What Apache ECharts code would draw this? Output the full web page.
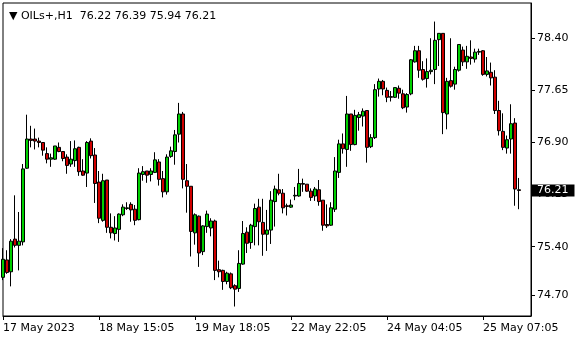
<!DOCTYPE html>
<html><head><meta charset="utf-8">
<script src="https://cdn.jsdelivr.net/npm/echarts@6/dist/echarts.min.js"></script>
<style>html,body{margin:0;padding:0;background:#fff}#c{width:580px;height:340px}</style>
</head><body><div id="c"></div>
<script>
const symbolName = 'OILs+';
const timeframe = 'H1';
const openPrices = [74.96,75.21,75.04,75.51,75.42,75.47,76.53,76.95,76.95,76.92,76.90,76.74,76.66,76.66,76.83,76.77,76.69,76.59,76.64,76.83,
76.49,76.46,76.92,76.72,76.33,75.78,76.36,75.68,75.59,75.65,75.86,75.95,76.01,75.94,75.79,76.44,76.49,76.44,76.47,76.62,
76.38,76.19,76.70,76.77,77.02,77.31,76.35,76.27,75.60,75.84,75.33,75.69,75.67,75.77,75.07,75.06,74.90,75.01,74.84,74.80,
75.15,75.61,75.46,75.69,75.97,75.75,75.58,75.64,76.05,76.22,76.17,75.99,75.97,76.13,76.13,76.31,76.30,76.20,76.13,76.22,
76.07,75.72,75.71,75.94,76.47,76.88,76.80,77.31,76.87,77.26,77.28,77.36,76.84,76.97,77.67,77.78,77.65,77.56,77.55,77.68,
77.60,77.41,77.60,78.06,78.22,77.95,77.82,77.92,77.95,78.38,78.47,77.31,77.79,77.74,77.94,78.23,78.06,78.13,78.10,78.20,
78.22,77.88,77.91,77.84,77.36,77.06,76.82,76.95,77.18,76.22];
const closePrices = [75.22,75.03,75.48,75.42,75.48,76.52,76.95,76.93,76.92,76.90,76.79,76.66,76.68,76.85,76.77,76.67,76.57,76.66,76.81,76.48,
76.43,76.90,76.71,76.31,75.81,76.35,75.68,75.60,75.67,75.87,75.97,75.96,75.93,75.78,76.46,76.48,76.43,76.49,76.65,76.37,
76.19,76.69,76.78,77.01,77.31,76.37,76.27,75.62,75.86,75.31,75.70,75.87,75.77,75.06,75.04,74.90,75.02,74.81,74.79,75.16,
75.59,75.45,75.71,75.95,75.76,75.58,75.64,76.07,76.23,76.17,75.96,75.98,76.00,76.14,76.31,76.30,76.20,76.11,76.23,76.05,
75.71,75.70,75.96,76.49,76.88,76.81,77.31,76.87,77.29,77.30,77.35,76.83,76.97,77.66,77.78,77.67,77.55,77.55,77.69,77.61,
77.40,77.59,78.09,78.22,77.94,77.81,77.92,77.94,78.37,78.47,77.33,77.78,77.71,77.95,78.31,78.06,78.14,78.11,78.20,78.21,
77.88,77.93,77.83,77.36,77.07,76.83,76.94,77.17,76.23,76.21];
const lowPrices = [74.92,75.01,74.83,75.39,75.06,75.42,76.52,76.83,76.80,76.83,76.71,76.60,76.55,76.65,76.76,76.63,76.45,76.55,76.55,76.42,
76.42,76.26,76.67,76.03,75.74,75.76,75.60,75.52,75.49,75.47,75.84,75.93,75.76,75.71,75.78,76.35,76.32,76.34,76.46,76.28,
76.11,76.15,76.68,76.58,76.90,76.24,75.89,75.26,75.43,75.11,75.28,75.60,75.55,74.92,74.96,74.78,74.86,74.79,74.54,74.75,
75.14,75.31,75.37,75.42,75.42,75.27,75.34,75.44,75.69,76.14,75.88,75.85,75.96,76.07,76.12,76.19,76.19,76.06,76.06,75.99,
75.63,75.67,75.70,75.90,76.39,76.74,76.55,76.78,76.86,77.07,77.13,76.61,76.82,76.95,77.56,77.58,77.48,77.49,77.54,77.53,
77.38,77.33,77.58,78.05,77.83,77.79,77.69,77.88,77.74,78.00,77.02,77.09,77.69,77.66,77.92,78.00,77.96,78.02,78.05,78.16,
77.86,77.85,77.72,77.31,77.00,76.79,76.74,76.74,75.99,75.94];
const highPrices = [75.38,75.35,75.51,76.14,75.90,76.59,77.30,77.14,77.10,76.97,76.90,76.83,76.74,76.85,76.90,76.77,76.73,76.92,76.93,76.84,
76.66,76.92,76.96,76.82,76.49,76.45,76.36,75.88,75.84,75.88,76.01,76.04,76.04,76.00,76.53,76.56,76.49,76.53,76.76,76.66,
76.49,76.73,76.84,77.08,77.47,77.34,76.59,76.27,75.88,75.85,75.71,75.92,75.81,75.79,75.20,75.07,75.04,75.03,74.86,75.35,
75.77,75.68,75.73,76.02,76.09,76.09,75.93,76.20,76.28,76.45,76.23,76.02,76.08,76.26,76.52,76.38,76.30,76.24,76.26,76.36,
76.07,76.01,76.04,76.69,76.94,77.03,77.57,77.31,77.37,77.34,77.39,77.36,77.02,77.74,77.82,77.80,77.69,77.64,77.69,77.72,
77.66,77.61,78.10,78.29,78.29,78.07,78.11,78.40,78.64,78.47,78.47,77.83,78.40,77.99,78.31,78.28,78.29,78.37,78.25,78.25,
78.23,78.13,78.05,77.94,77.50,77.32,77.00,77.45,77.25,76.39];
const timeLabels = ['17 May 2023','18 May 15:05','19 May 18:05','22 May 22:05','24 May 04:05','25 May 07:05'];
const timeLabelBars = [0,24,48,72,96,120];
const priceTicks = [78.40,77.65,76.90,76.15,75.40,74.70];
const currentPrice = 76.21;
const emptySlots = 3;

const n = openPrices.length;
const categories = [];
for (let i = 0; i < n + emptySlots; i++) categories.push(String(i));
const labelMap = {};
timeLabelBars.forEach((b, k) => { labelMap[String(b)] = timeLabels[k]; });
const ohlc = openPrices.map((o, i) => [o, closePrices[i], lowPrices[i], highPrices[i]]);
const last = n - 1;
const titleText = '\u25BC ' + symbolName + ',' + timeframe + '  ' +
  [openPrices[last], highPrices[last], lowPrices[last], closePrices[last]].map(v => v.toFixed(2)).join(' ');

const font = 'DejaVu Sans';
const chart = echarts.init(document.getElementById('c'), null, {renderer: 'canvas'});
chart.setOption({
  animation: false,
  backgroundColor: '#fff',
  title: {text: titleText, left: 4, top: 6, textStyle: {fontFamily: font, fontSize: 11, fontWeight: 'normal', color: '#000'}},
  grid: {left: 3, right: 49, top: 3, bottom: 24, show: true, borderColor: '#000', borderWidth: 1, backgroundColor: '#fff'},
  xAxis: {
    type: 'category', data: categories, boundaryGap: false,
    axisLine: {lineStyle: {color: '#000', width: 1}},
    axisTick: {show: true, interval: 23, length: 4, lineStyle: {color: '#000'}},
    axisLabel: {interval: 23, align: 'left', margin: 7, fontFamily: font, fontSize: 11, color: '#000',
      formatter: (v) => labelMap[v] || ''},
    splitLine: {show: false}
  },
  yAxis: {
    type: 'value', position: 'right', min: 74.4036, max: 78.907,
    axisLine: {show: true, lineStyle: {color: '#000'}},
    axisTick: {show: true, length: 4, customValues: priceTicks, lineStyle: {color: '#000'}},
    axisLabel: {customValues: priceTicks, margin: 6, fontFamily: font, fontSize: 11, color: '#000',
      formatter: v => Number(v).toFixed(2)},
    splitLine: {show: false}
  },
  series: [{
    type: 'candlestick', data: ohlc, barWidth: 3,
    itemStyle: {color: '#00d000', color0: '#d00000', borderColor: '#000', borderColor0: '#000', borderColorDoji: '#000', borderWidth: 1},
    emphasis: {disabled: true},
    markLine: {
      silent: true, symbol: ['none', 'none'], animation: false,
      data: [{yAxis: currentPrice}],
      lineStyle: {color: 'rgba(0,0,0,0)', width: 1, type: 'solid'},
      label: {show: true, position: 'end', distance: 1, formatter: currentPrice.toFixed(2),
        backgroundColor: '#000', color: '#fff', fontFamily: font, fontSize: 11, padding: [1, 6, 0, 5]}
    }
  }]
});
</script>
</body></html>
